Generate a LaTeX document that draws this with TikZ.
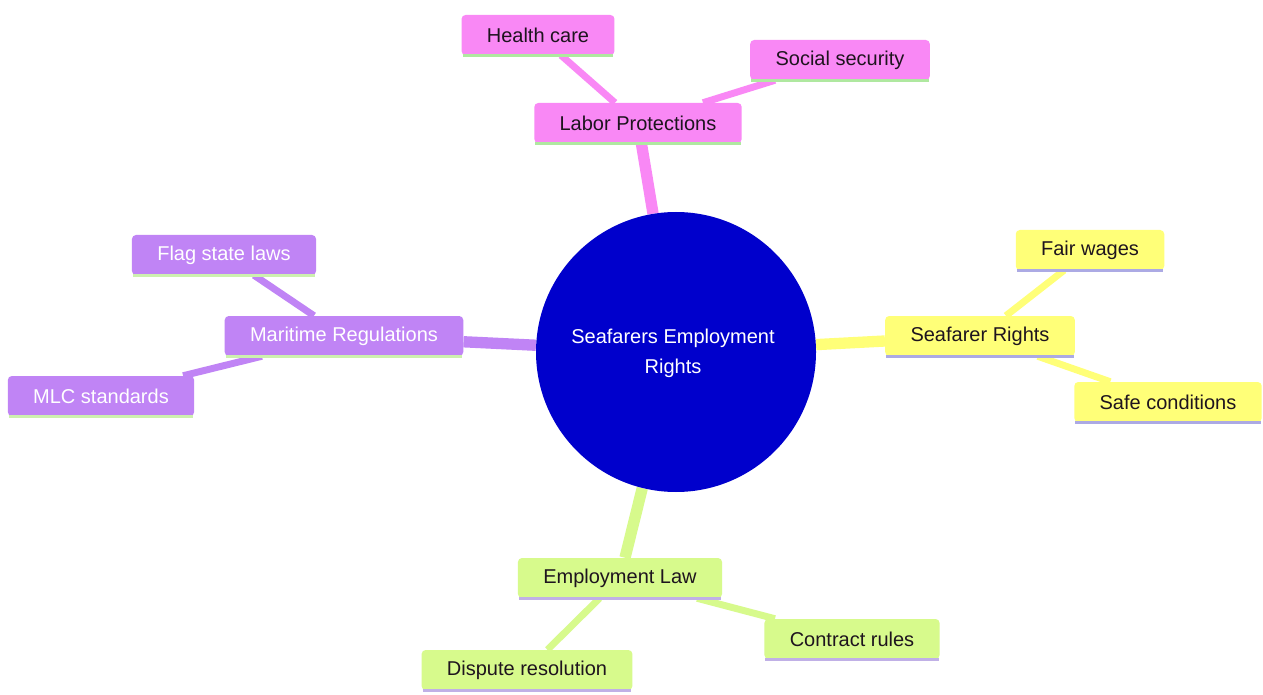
\documentclass[tikz,border=0pt]{standalone}
\usepackage{fontspec}
\setmainfont{Liberation Sans}
\usetikzlibrary{backgrounds}
\definecolor{rootblue}{RGB}{0,0,204}
\definecolor{pinkn}{RGB}{249,136,245}
\definecolor{pinkline}{RGB}{175,232,160}
\definecolor{yelln}{RGB}{255,255,120}
\definecolor{yellline}{RGB}{172,170,228}
\definecolor{greenn}{RGB}{215,250,140}
\definecolor{greenline}{RGB}{192,176,230}
\definecolor{purpn}{RGB}{192,132,245}
\definecolor{purpline}{RGB}{205,240,175}
\definecolor{darktext}{RGB}{30,20,30}
\tikzset{
  mmbox/.style={rectangle, rounded corners=3pt, inner xsep=19pt, inner ysep=0pt,
    minimum height=30pt, font=\fontsize{15}{18}\selectfont},
  pinkbox/.style={mmbox, fill=pinkn, text=darktext},
  yellbox/.style={mmbox, fill=yelln, text=darktext},
  greenbox/.style={mmbox, fill=greenn, text=darktext},
  purpbox/.style={mmbox, fill=purpn, text=white},
  rootedge/.style={line width=8.5pt},
  leafedge/.style={line width=5.2pt},
  underline/.style={line width=2.2pt}
}
\begin{document}
\begin{tikzpicture}[x=0.75pt,y=-0.75pt]
\useasboundingbox (0,0) rectangle (1263,695);

\node[circle, fill=rootblue, minimum size=210pt, text=white, align=center,
  font=\fontsize{15}{22.5}\selectfont] (root) at (676,352) {};
\node[text=white, align=center, font=\fontsize{15}{22.5}\selectfont] (roottext) at (673,353) {Seafarers Employment\\Rights};

\node[pinkbox] (lp) at (638,123) {Labor Protections};
\node[pinkbox] (hc) at (538,35) {Health care};
\node[pinkbox] (ss) at (840,60) {Social security};

\node[yellbox] (sr) at (980,336) {Seafarer Rights};
\node[yellbox] (fw) at (1090,250) {Fair wages};
\node[yellbox] (sc) at (1168,402) {Safe conditions};

\node[greenbox] (el) at (620,578) {Employment Law};
\node[greenbox] (cr) at (852,639) {Contract rules};
\node[greenbox] (dr) at (527,670) {Dispute resolution};

\node[purpbox] (mr) at (344,336) {Maritime Regulations};
\node[purpbox] (fs) at (224,255) {Flag state laws};
\node[purpbox] (mlc) at (101,396) {MLC standards};

\foreach \n/\c in {lp/pinkline,hc/pinkline,ss/pinkline,sr/yellline,fw/yellline,sc/yellline,el/greenline,cr/greenline,dr/greenline,mr/purpline,fs/purpline,mlc/purpline}{
  \draw[underline, draw=\c] ([xshift=1pt]\n.south west) -- ([xshift=-1pt]\n.south east);
}

\begin{scope}[on background layer]
\fill[white] (0,0) rectangle (1263,695);
\draw[rootedge, draw=pinkn] (root) -- (lp);
\draw[leafedge, draw=pinkn] (lp) -- (hc);
\draw[leafedge, draw=pinkn] (lp) -- (ss);
\draw[rootedge, draw=yelln] (root) -- (sr);
\draw[leafedge, draw=yelln] (sr) -- (fw);
\draw[leafedge, draw=yelln] (sr) -- (sc);
\draw[rootedge, draw=greenn] (root) -- (el);
\draw[leafedge, draw=greenn] (el) -- (cr);
\draw[leafedge, draw=greenn] (el) -- (dr);
\draw[rootedge, draw=purpn] (root) -- (mr);
\draw[leafedge, draw=purpn] (mr) -- (fs);
\draw[leafedge, draw=purpn] (mr) -- (mlc);
\end{scope}
\end{tikzpicture}
\end{document}
